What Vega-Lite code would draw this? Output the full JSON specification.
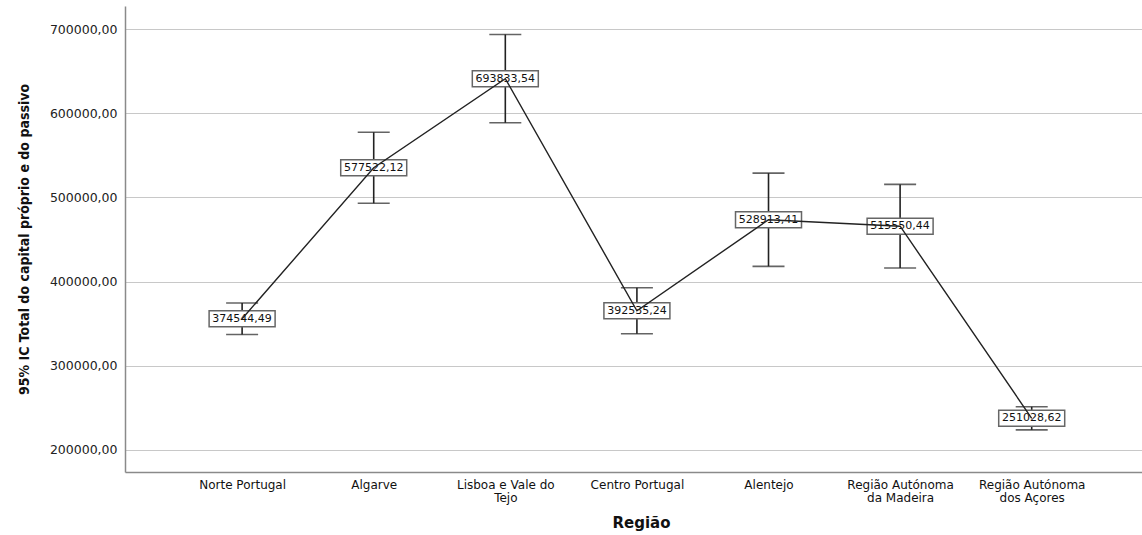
{
  "$schema": "https://vega.github.io/schema/vega-lite/v6.json",
  "autosize": "none",
  "padding": {"left": 125, "top": 6, "right": 0, "bottom": 63},
  "width": 1017,
  "height": 466,
  "background": "white",
  "data": {
    "values": [
      {"regiao": "Norte Portugal", "media": 355772, "inferior": 337000, "superior": 374544.49},
      {"regiao": "Algarve", "media": 535311, "inferior": 493100, "superior": 577522.12},
      {"regiao": "Lisboa e Vale do Tejo", "media": 641316, "inferior": 588800, "superior": 693833.54},
      {"regiao": "Centro Portugal", "media": 365267, "inferior": 338000, "superior": 392535.24},
      {"regiao": "Alentejo", "media": 473506, "inferior": 418100, "superior": 528913.41},
      {"regiao": "Região Autónoma da Madeira", "media": 465825, "inferior": 416100, "superior": 515550.44},
      {"regiao": "Região Autónoma dos Açores", "media": 237314, "inferior": 223600, "superior": 251028.62}
    ]
  },
  "encoding": {
    "x": {
      "field": "regiao",
      "type": "nominal",
      "sort": null,
      "scale": {"type": "point", "padding": 0.864, "align": 0.515},
      "axis": {
        "title": "Região",
        "labelAngle": 0,
        "ticks": false,
        "domainColor": "#8a8a8a",
        "domainWidth": 1.5,
        "labelFont": "DejaVu Sans",
        "labelFontSize": 12,
        "labelColor": "#111111",
        "labelPadding": 7,
        "labelBaseline": "top",
        "labelLineHeight": 13,
        "labelExpr": "datum.label == 'Lisboa e Vale do Tejo' ? ['Lisboa e Vale do', 'Tejo'] : datum.label == 'Região Autónoma da Madeira' ? ['Região Autónoma', 'da Madeira'] : datum.label == 'Região Autónoma dos Açores' ? ['Região Autónoma', 'dos Açores'] : datum.label",
        "titleFont": "DejaVu Sans",
        "titleFontSize": 15,
        "titleFontWeight": "bold",
        "titleColor": "#111111",
        "titlePadding": 12,
        "titleX": 516
      }
    }
  },
  "layer": [
    {
      "mark": {"type": "rule", "color": "#222222", "strokeWidth": 1.6},
      "encoding": {
        "y": {
          "field": "inferior",
          "type": "quantitative",
          "title": "95% IC Total do capital próprio e do passivo",
          "scale": {"domain": [173500, 727700], "nice": false, "zero": false},
          "axis": {
            "values": [200000, 300000, 400000, 500000, 600000, 700000],
            "format": ".2f",
            "ticks": false,
            "grid": true,
            "gridColor": "#c8c8c8",
            "gridWidth": 1,
            "domainColor": "#8a8a8a",
            "domainWidth": 1.5,
            "labelFont": "DejaVu Sans",
            "labelFontSize": 12.5,
            "labelColor": "#222222",
            "labelPadding": 8,
            "titleFont": "DejaVu Sans Condensed, Liberation Sans, sans-serif",
            "titleFontSize": 14,
            "titleFontWeight": "bold",
            "titleColor": "#111111",
            "titlePadding": 18
          }
        },
        "y2": {"field": "superior"}
      }
    },
    {
      "mark": {"type": "tick", "color": "#222222", "size": 32, "thickness": 1.6},
      "encoding": {
        "y": {"field": "inferior", "type": "quantitative", "title": "95% IC Total do capital próprio e do passivo"}
      }
    },
    {
      "mark": {"type": "tick", "color": "#222222", "size": 32, "thickness": 1.6},
      "encoding": {
        "y": {"field": "superior", "type": "quantitative", "title": "95% IC Total do capital próprio e do passivo"}
      }
    },
    {
      "mark": {"type": "tick", "size": 66, "thickness": 16, "fill": "white", "stroke": "#666666", "strokeWidth": 1.5, "opacity": 1, "fillOpacity": 1},
      "encoding": {
        "y": {"field": "media", "type": "quantitative", "title": "95% IC Total do capital próprio e do passivo"}
      }
    },
    {
      "mark": {"type": "text", "font": "DejaVu Sans", "fontSize": 11, "color": "#111111", "baseline": "middle", "align": "center"},
      "encoding": {
        "y": {"field": "media", "type": "quantitative", "title": "95% IC Total do capital próprio e do passivo"},
        "text": {"field": "superior", "type": "quantitative", "format": ".2f"}
      }
    },
    {
      "mark": {"type": "line", "color": "#222222", "strokeWidth": 1.4},
      "encoding": {
        "y": {"field": "media", "type": "quantitative", "title": "95% IC Total do capital próprio e do passivo"}
      }
    }
  ],
  "config": {
    "view": {"stroke": null},
    "locale": {
      "number": {"decimal": ",", "thousands": "", "grouping": [3], "currency": ["", " €"]}
    }
  }
}
